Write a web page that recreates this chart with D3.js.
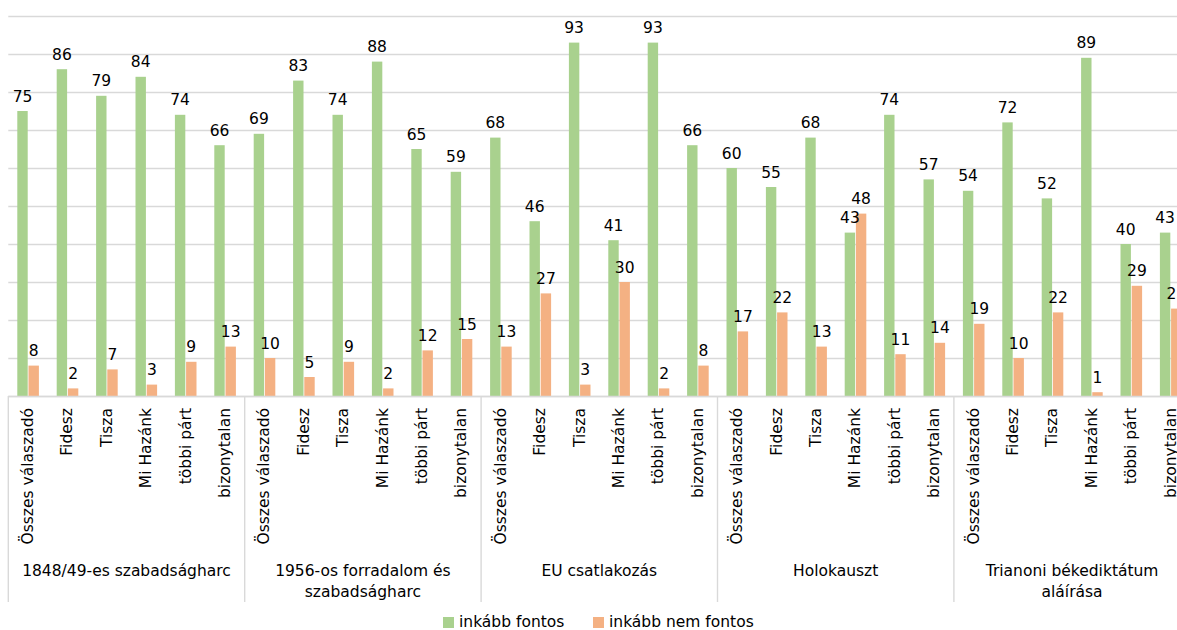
<!DOCTYPE html>
<html>
<head>
<meta charset="utf-8">
<script src="https://cdn.jsdelivr.net/npm/d3@7"></script>
<style>
  html, body { margin: 0; padding: 0; background: #fff; overflow: hidden; }
  svg { display: block; font-family: "DejaVu Sans", Verdana, sans-serif; }
</style>
</head>
<body>
<svg id="chart" width="1177" height="630"></svg>
<script>
const groups = ["1848/49-es szabadságharc", "1956-os forradalom és szabadságharc", "EU csatlakozás", "Holokauszt", "Trianoni békediktátum aláírása"];
const subcats = ["Összes válaszadó", "Fidesz", "Tisza", "Mi Hazánk", "többi párt", "bizonytalan"];
const seriesNames = ["inkább fontos", "inkább nem fontos"];
const seriesColors = ["#a9d18e", "#f4b183"];
const fontos = [
  75, 86, 79, 84, 74, 66,
  69, 83, 74, 88, 65, 59,
  68, 46, 93, 41, 93, 66,
  60, 55, 68, 43, 74, 57,
  54, 72, 52, 89, 40, 43
];
const nemFontos = [
  8, 2, 7, 3, 9, 13,
  10, 5, 9, 2, 12, 15,
  13, 27, 3, 30, 2, 8,
  17, 22, 13, 48, 11, 14,
  19, 10, 22, 1, 29, 23
];
const yTicks = [0, 10, 20, 30, 40, 50, 60, 70, 80, 90, 100];

const svg = d3.select("#chart");
const plotLeft = 8.3, step = 39.4;
const nCat = groups.length * subcats.length;
const plotRight = plotLeft + nCat * step;
const yBase = 396, yTop = 16;

const cats = d3.range(nCat);
const x = d3.scaleBand().domain(cats).range([plotLeft, plotRight]).paddingInner(0).paddingOuter(0);
const xs = d3.scaleBand().domain([0, 1]).range([9, 30.6]).paddingInner(0.07);
const y = d3.scaleLinear().domain([0, 100]).range([yBase, yTop]);

// gridlines
svg.append("g").selectAll("line").data(yTicks).join("line")
  .attr("x1", plotLeft).attr("x2", plotRight)
  .attr("y1", d => Math.round(y(d)) + 0.5).attr("y2", d => Math.round(y(d)) + 0.5)
  .attr("stroke", "#d9d9d9").attr("stroke-width", 1.4);

// bars
const data = cats.map(i => ({ i, vals: [fontos[i], nemFontos[i]] }));
const catG = svg.append("g").selectAll("g").data(data).join("g")
  .attr("transform", d => `translate(${x(d.i)},0)`);

catG.selectAll("rect").data(d => d.vals.map((v, s) => ({ v, s }))).join("rect")
  .attr("x", d => xs(d.s)).attr("width", xs.bandwidth())
  .attr("y", d => y(d.v)).attr("height", d => y(0) - y(d.v))
  .attr("fill", d => seriesColors[d.s]);

catG.selectAll("text.val").data(d => d.vals.map((v, s) => ({ v, s }))).join("text")
  .attr("class", "val")
  .attr("x", d => xs(d.s) + xs.bandwidth() / 2)
  .attr("y", d => y(d.v) - 9.5)
  .attr("text-anchor", "middle")
  .attr("font-size", 15.5)
  .attr("fill", "#000")
  .text(d => d.v);

// baseline
svg.append("line").attr("x1", plotLeft).attr("x2", plotRight)
  .attr("y1", yBase + 0.5).attr("y2", yBase + 0.5)
  .attr("stroke", "#d9d9d9").attr("stroke-width", 1.4);

// category labels
svg.append("g").selectAll("text").data(cats).join("text")
  .attr("transform", i => `translate(${x(i) + step / 2 + 5},408) rotate(-90)`)
  .attr("text-anchor", "end")
  .attr("font-size", 15.5)
  .attr("fill", "#000")
  .text(i => subcats[i % subcats.length]);

// group separators
const sepX = d3.range(groups.length + 1).map(g => x(0) + g * subcats.length * step);
svg.append("g").selectAll("line").data(sepX).join("line")
  .attr("x1", d => d).attr("x2", d => d)
  .attr("y1", yBase).attr("y2", 602)
  .attr("stroke", "#d9d9d9").attr("stroke-width", 1.4);

// group labels with wrapping
const gl = svg.append("g").selectAll("text").data(groups).join("text")
  .attr("text-anchor", "middle")
  .attr("font-size", 15.5)
  .attr("fill", "#000");
gl.each(function (name, gi) {
  const t = d3.select(this);
  const cx = x(0) + (gi + 0.5) * subcats.length * step;
  const words = name.split(" ");
  const maxW = subcats.length * step - 12;
  let lines = [], line = [];
  const tmp = t.append("tspan");
  words.forEach(w => {
    const test = line.concat([w]).join(" ");
    tmp.text(test);
    if (tmp.node().getComputedTextLength() > maxW && line.length) {
      lines.push(line.join(" "));
      line = [w];
    } else line.push(w);
  });
  lines.push(line.join(" "));
  tmp.remove();
  lines.forEach((l, li) => {
    t.append("tspan").attr("x", cx).attr("y", 575.5 + li * 21.5).text(l);
  });
});

// legend
const legX = [443, 593];
const leg = svg.append("g").selectAll("g").data(seriesNames).join("g")
  .attr("transform", (d, i) => `translate(${legX[i]},0)`);
leg.append("rect").attr("x", 0).attr("y", 617).attr("width", 11).attr("height", 11)
  .attr("fill", (d, i) => seriesColors[i]);
leg.append("text").attr("x", 16).attr("y", 627).attr("font-size", 15.5).attr("fill", "#000")
  .text(d => d);
</script>
</body>
</html>
